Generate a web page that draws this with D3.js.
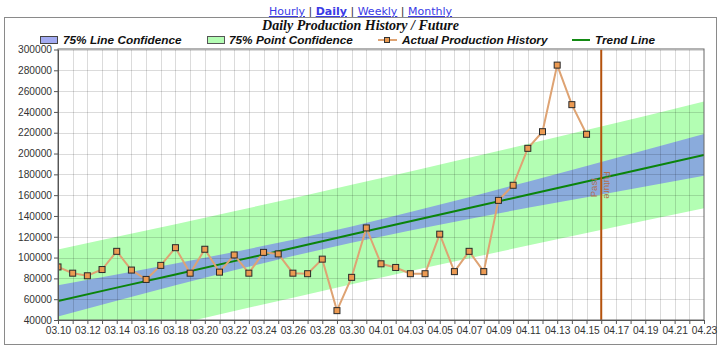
<!DOCTYPE html>
<html>
<head>
<meta charset="utf-8">
<script src="https://cdn.jsdelivr.net/npm/d3@7"></script>
<style>
  html, body { margin: 0; padding: 0; background: #fff; }
  svg { display: block; }
</style>
</head>
<body>
<svg id="chart" width="720" height="350"></svg>
<script>
// Daily production, one value per day (MM.DD)
const dateLabels = ["03.10","03.11","03.12","03.13","03.14","03.15","03.16","03.17","03.18","03.19",
  "03.20","03.21","03.22","03.23","03.24","03.25","03.26","03.27","03.28","03.29","03.30","03.31",
  "04.01","04.02","04.03","04.04","04.05","04.06","04.07","04.08","04.09","04.10","04.11","04.12",
  "04.13","04.14","04.15"];
const production = [91000, 85000, 82500, 88500, 106000, 88000, 79000, 92500, 109500, 85000,
  108000, 86000, 102500, 85000, 105000, 103500, 85000, 84500, 98500, 49000, 81000, 128500,
  94000, 90500, 84500, 84500, 122500, 86500, 106000, 86500, 155000, 169500, 205000, 221000,
  285000, 247000, 218500];

// Trend line and confidence bands, sampled every four days out to the forecast horizon
const bandDates = ["03.10","03.14","03.18","03.22","03.26","03.30","04.03","04.07","04.11","04.15","04.19","04.23"];
const trend      = [58300, 71100, 83800, 96600, 109300, 122100, 134900, 147600, 160400, 173100, 185900, 198700];
const lineUpper  = [73300, 83700, 94300, 105400, 117100, 129900, 143700, 158100, 173000, 188100, 203400, 218800];
const lineLower  = [43300, 58500, 73300, 87800, 101500, 114300, 126100, 137100, 147800, 158100, 168400, 178600];
const pointUpper = [107800, 119900, 132100, 144500, 157100, 169900, 182800, 195900, 209200, 222600, 236200, 250000];
const pointLower = [8800, 22300, 35500, 48700, 61500, 74300, 87000, 99300, 111600, 123600, 135600, 147400];

// Axis ticks
const xStart = "03.10", xEnd = "04.23", pastFutureDate = "04.16";
const yTicks = [40000, 60000, 80000, 100000, 120000, 140000, 160000, 180000, 200000,
  220000, 240000, 260000, 280000, 300000];

const legendItems = ["75% Line Confidence", "75% Point Confidence", "Actual Production History", "Trend Line"];
const navLinks = ["Hourly", "Daily", "Weekly", "Monthly"];
const title = "Daily Production History / Future";

const parse = s => d3.utcParse("%Y.%m.%d")("2014." + s);
const fmt = d3.utcFormat("%m.%d");

const svg = d3.select("#chart");
const plot = { left: 58, right: 704, top: 49.5, bottom: 320 };

const x = d3.scaleUtc().domain([parse(xStart), parse(xEnd)]).range([plot.left, plot.right]);
const y = d3.scaleLinear().domain([40000, 300000]).range([plot.bottom, plot.top]);

// Navigation links
const nav = svg.append("text")
  .attr("x", 360.5).attr("y", 15)
  .attr("text-anchor", "middle")
  .style("font-family", "'DejaVu Sans', Verdana, sans-serif")
  .style("font-size", "11px");
navLinks.forEach((name, i) => {
  if (i > 0) nav.append("tspan").attr("fill", "#333").text(" | ");
  nav.append("tspan")
    .attr("fill", "#3a3ae6")
    .style("text-decoration", "underline")
    .style("font-weight", name === "Daily" ? "bold" : "normal")
    .text(name);
});

// Outer frame
svg.append("rect")
  .attr("x", 4.5).attr("y", 17.5).attr("width", 712).attr("height", 327)
  .attr("fill", "none").attr("stroke", "#8a8a8a");

// Title
svg.append("text")
  .attr("x", 360.5).attr("y", 30)
  .attr("text-anchor", "middle")
  .style("font-family", "'Liberation Serif', 'Times New Roman', serif")
  .style("font-weight", "bold").style("font-style", "italic")
  .style("font-size", "14px")
  .attr("fill", "#111")
  .text(title);

// Legend
const legend = svg.append("g")
  .style("font-family", "'Liberation Sans', Arial, sans-serif")
  .style("font-weight", "bold").style("font-style", "italic")
  .style("font-size", "11.8px");
const ly = 40;
legend.append("rect").attr("x", 40.5).attr("y", ly - 3.5).attr("width", 17).attr("height", 7)
  .attr("fill", "#a3abf2").attr("stroke", "#444");
legend.append("text").attr("x", 63).attr("y", ly + 4.3).attr("fill", "#111").text(legendItems[0]);
legend.append("rect").attr("x", 207.5).attr("y", ly - 3.5).attr("width", 17).attr("height", 7)
  .attr("fill", "#b4fdb4").attr("stroke", "#555");
legend.append("text").attr("x", 229).attr("y", ly + 4.3).attr("fill", "#111").text(legendItems[1]);
legend.append("line").attr("x1", 378).attr("x2", 397).attr("y1", ly).attr("y2", ly)
  .attr("stroke", "#dea373").attr("stroke-width", 2);
legend.append("rect").attr("x", 384.5).attr("y", ly - 2.5).attr("width", 5).attr("height", 5)
  .attr("fill", "#e8994f").attr("stroke", "#333");
legend.append("text").attr("x", 402).attr("y", ly + 4.3).attr("fill", "#111").text(legendItems[2]);
legend.append("line").attr("x1", 572).attr("x2", 590).attr("y1", ly).attr("y2", ly)
  .attr("stroke", "#138a13").attr("stroke-width", 2);
legend.append("text").attr("x", 595).attr("y", ly + 4.3).attr("fill", "#111").text(legendItems[3]);

// Plot area clip
svg.append("clipPath").attr("id", "plotClip")
  .append("rect").attr("x", plot.left).attr("y", plot.top)
  .attr("width", plot.right - plot.left).attr("height", plot.bottom - plot.top);

const inner = svg.append("g").attr("clip-path", "url(#plotClip)");

const bandRows = bandDates.map((d, i) => ({
  date: parse(d), trend: trend[i],
  lu: lineUpper[i], ll: lineLower[i], pu: pointUpper[i], pl: pointLower[i]
}));

const area = (hi, lo) => d3.area().x(d => x(d.date)).y0(d => y(lo(d))).y1(d => y(hi(d)));

inner.append("path").datum(bandRows)
  .attr("d", area(d => d.pu, d => d.pl))
  .attr("fill", "#b3feb3");
inner.append("path").datum(bandRows)
  .attr("d", area(d => d.lu, d => d.ll))
  .attr("fill", "#8aabdc");

// Grid on top of the bands, lightly
const allDays = d3.utcDay.range(parse(xStart), d3.utcDay.offset(parse(xEnd), 1));
inner.append("g").selectAll("line").data(allDays).join("line")
  .attr("x1", d => Math.round(x(d)) + 0.5).attr("x2", d => Math.round(x(d)) + 0.5)
  .attr("y1", plot.top).attr("y2", plot.bottom)
  .attr("stroke", "rgba(0,0,0,0.14)");
inner.append("g").selectAll("line").data(yTicks).join("line")
  .attr("x1", plot.left).attr("x2", plot.right)
  .attr("y1", d => Math.round(y(d)) + 0.5).attr("y2", d => Math.round(y(d)) + 0.5)
  .attr("stroke", "rgba(0,0,0,0.14)");

// Trend line
inner.append("path").datum(bandRows)
  .attr("d", d3.line().x(d => x(d.date)).y(d => y(d.trend)))
  .attr("fill", "none").attr("stroke", "#0b840b").attr("stroke-width", 2);

// Past / Future divider
const xPF = x(parse(pastFutureDate));
inner.append("line")
  .attr("x1", xPF).attr("x2", xPF).attr("y1", plot.top).attr("y2", plot.bottom)
  .attr("stroke", "#b4520c").attr("stroke-width", 2);
const pfFont = "'Liberation Sans', Arial, sans-serif";
svg.append("text")
  .attr("transform", `translate(${xPF - 4.5},${y(158000)}) rotate(-90)`)
  .attr("text-anchor", "start")
  .style("font-family", pfFont).style("font-size", "9.5px")
  .attr("fill", "#b07050").text("Past");
svg.append("text")
  .attr("transform", `translate(${xPF + 3},${y(183000)}) rotate(90)`)
  .attr("text-anchor", "start")
  .style("font-family", pfFont).style("font-size", "9.5px")
  .attr("fill", "#b07050").text("Future");

// Actual production
const prodRows = dateLabels.map((d, i) => ({ date: parse(d), value: production[i] }));
inner.append("path").datum(prodRows)
  .attr("d", d3.line().x(d => x(d.date)).y(d => y(d.value)))
  .attr("fill", "none").attr("stroke", "#dea373").attr("stroke-width", 2);
inner.append("g").selectAll("rect").data(prodRows).join("rect")
  .attr("x", d => x(d.date) - 3).attr("y", d => y(d.value) - 3)
  .attr("width", 6).attr("height", 6)
  .attr("fill", "#ec9a52").attr("stroke", "#2a2a2a").attr("stroke-width", 1);

// Plot frame
svg.append("rect")
  .attr("x", plot.left).attr("y", plot.top - 0.5)
  .attr("width", plot.right - plot.left).attr("height", plot.bottom - plot.top + 0.5)
  .attr("fill", "none").attr("stroke", "#666");

// Axes
const tickFont = "'Liberation Sans', Arial, sans-serif";
const yAxis = svg.append("g").attr("transform", `translate(${plot.left},0)`)
  .call(d3.axisLeft(y).tickValues(yTicks).tickSize(4).tickSizeOuter(0).tickPadding(2).tickFormat(d3.format("d")));
const xAxis = svg.append("g").attr("transform", `translate(0,${plot.bottom})`)
  .call(d3.axisBottom(x).tickValues(allDays).tickSize(4).tickSizeOuter(0).tickPadding(3)
    .tickFormat((d, i) => i % 2 === 0 ? fmt(d) : ""));
[xAxis, yAxis].forEach(g => {
  g.select(".domain").attr("stroke", "#555");
  g.selectAll(".tick line").attr("stroke", "#555");
  g.selectAll(".tick text").attr("fill", "#333")
    .style("font-family", tickFont).style("font-size", "10.2px");
});
</script>
</body>
</html>
